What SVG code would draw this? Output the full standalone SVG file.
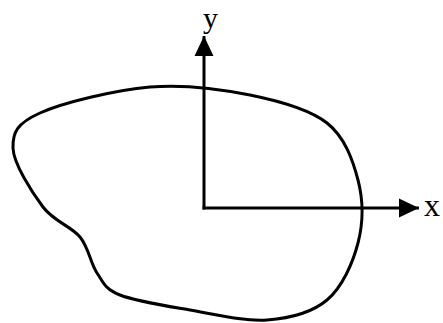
<svg xmlns="http://www.w3.org/2000/svg" width="443" height="323" viewBox="0 0 443 323">
<style>
.ln{fill:none;stroke:#000;stroke-width:3}
.lbl{font-family:"Liberation Serif","Times New Roman",serif;font-size:32px;fill:#000}
</style>
<defs>
<marker id="ah" markerUnits="userSpaceOnUse" markerWidth="21" markerHeight="20" refX="20" refY="10" orient="auto" viewBox="0 0 21 20">
<path d="M0,0.5 L20,10 L0,19.5 Z" fill="#000"/>
</marker>
</defs>
<rect width="443" height="323" fill="#fff"/>
<g id="region">
<path class="ln" d="M13,148 C12.5,132.3 17.2,123.2 40,113 C62.8,102.8 115,90 150,87 C185,84 220.5,89 250,95 C279.5,101 309,108.8 327,123 C345,137.2 352.8,160 358,180 C363.2,200 363.2,223 358,243 C352.8,263 342.2,287.2 327,300 C311.8,312.8 289.8,318.3 267,320 C244.2,321.7 214.5,314.2 190,310 C165.5,305.8 135.5,301.2 120,295 C104.5,288.8 103.7,282.7 97,273 C90.3,263.3 89,248 80,237 C71,226 54.2,221.8 43,207 C31.8,192.2 13.5,163.7 13,148 Z"/>
</g>
<g id="connectors">
<path class="ln" d="M204,209.5 L204,36" marker-end="url(#ah)"/>
<path class="ln" d="M202.5,208 L419,208" marker-end="url(#ah)"/>
</g>
<g id="label-y"><text class="lbl" x="203" y="27.5" style="font-size:30px">y</text></g>
<g id="label-x"><text class="lbl" x="424" y="216">x</text></g>
</svg>
